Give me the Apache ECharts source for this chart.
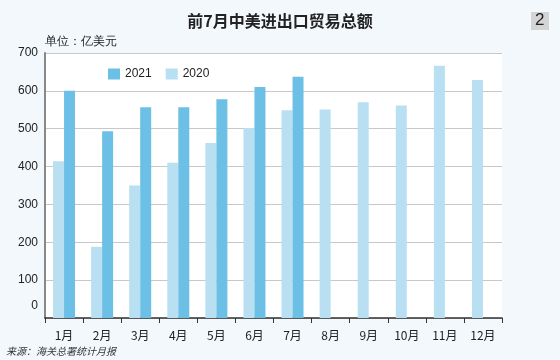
<!DOCTYPE html>
<html><head><meta charset="utf-8">
<script src="https://cdn.jsdelivr.net/npm/echarts@6/dist/echarts.min.js"></script>
<style>html,body{margin:0;padding:0;background:#f3f8fc;}#c{width:560px;height:360px;}</style>
</head><body><div id="c"></div>
<script>
const categories = ['1月','2月','3月','4月','5月','6月','7月','8月','9月','10月','11月','12月'];
const values2020 = [414, 188, 350, 410, 462, 502, 549, 551, 570, 561, 666, 629];
const values2021 = [600, 493, 557, 557, 578, 610, 637, null, null, null, null, null];
const seriesNames = ['2021', '2020'];
const titleText = '前7月中美进出口贸易总额';
const unitText = '单位：亿美元';
const sourceText = '来源：海关总署统计月报';
const badgeText = '2';

const font = '"Noto Sans CJK SC", "Noto Sans", sans-serif';
const chart = echarts.init(document.getElementById('c'), null, {renderer: 'canvas'});
chart.setOption({
  backgroundColor: '#f3f8fc',
  animation: false,
  textStyle: {fontFamily: font},
  title: {
    text: titleText, left: 'center', top: 8,
    textStyle: {fontSize: 16, fontWeight: 'bold', color: '#222', fontFamily: font}
  },
  legend: {
    data: seriesNames, left: 103, top: 63, itemWidth: 12, itemHeight: 11, itemGap: 14,
    icon: 'rect',
    textStyle: {fontSize: 12, color: '#222', fontFamily: 'Liberation Sans, Arial, sans-serif'}
  },
  grid: {left: 45, right: 58, top: 53, bottom: 42, show: true, backgroundColor: '#ffffff', borderWidth: 0},
  xAxis: {
    type: 'category', data: categories,
    axisLine: {lineStyle: {color: '#333', width: 1.5}},
    axisTick: {show: true, length: 5, lineStyle: {color: '#333'}},
    axisLabel: {fontSize: 12, color: '#222', margin: 11, fontFamily: font}
  },
  yAxis: {
    type: 'value', min: 0, max: 700, interval: 100,
    axisLine: {show: true, lineStyle: {color: '#888', width: 2}},
    axisTick: {show: false},
    splitLine: {lineStyle: {color: '#c8c8c8'}},
    axisLabel: {
      fontSize: 12, color: '#222', margin: 7, fontFamily: 'Liberation Sans, Arial, sans-serif',
      formatter: v => v === 0 ? '{z|0}' : String(v),
      rich: {z: {fontSize: 12, color: '#222', padding: [0, 0, 24, 0], fontFamily: 'Liberation Sans, Arial, sans-serif'}}
    }
  },
  series: [
    {name: seriesNames[1], type: 'bar', data: values2020, barWidth: 11, barGap: '0%',
     itemStyle: {color: '#b8dff2'}, z: 2},
    {name: seriesNames[0], type: 'bar', data: values2021, barWidth: 11, barGap: '0%',
     itemStyle: {color: '#6cc0e5'}, z: 2}
  ],
  graphic: [
    {type: 'text', left: 45, top: 36, style: {text: unitText, fontSize: 12, fill: '#222', font: '12px ' + font}},
    {type: 'rect', left: 531, top: 12, shape: {width: 18, height: 18}, style: {fill: '#d4d4d4'}},
    {type: 'text', left: 535, top: 12, style: {text: badgeText, font: '17px "Liberation Sans", Arial, sans-serif', fill: '#222'}},
    {type: 'text', left: 6, top: 346, style: {text: sourceText, font: 'italic 10px ' + font, fill: '#333'}}
  ]
});
</script></body></html>
